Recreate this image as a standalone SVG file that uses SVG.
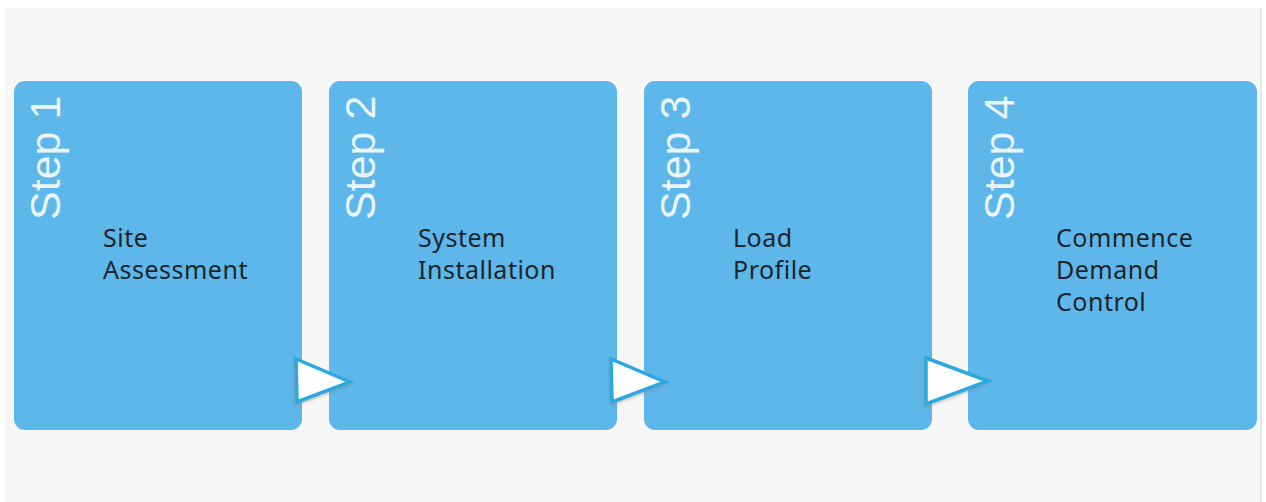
<svg xmlns="http://www.w3.org/2000/svg" width="1266" height="502" viewBox="0 0 1266 502">
  <defs>
    <style>
      .box { fill: #5db7ea; }
      .step { font-family: "Liberation Sans", Arial, sans-serif; font-size: 43px; fill: #eaf5fc; }
      .lbl { font-family: "Noto Sans", "Open Sans", sans-serif; font-size: 25px; fill: #1f2429; letter-spacing: 0.5px; }
      .tri { fill: #ffffff; stroke: #29a9e1; stroke-width: 3.5; stroke-linejoin: miter; }
    </style>
    <filter id="sh" x="-30%" y="-30%" width="160%" height="160%">
      <feGaussianBlur in="SourceAlpha" stdDeviation="1.5"/>
      <feOffset dx="-1" dy="2" result="b"/>
      <feFlood flood-color="#888888" flood-opacity="0.5"/>
      <feComposite in2="b" operator="in"/>
      <feMerge><feMergeNode/><feMergeNode in="SourceGraphic"/></feMerge>
    </filter>
  </defs>
  <rect x="0" y="0" width="1266" height="502" fill="#ffffff"/>
  <rect x="5" y="8" width="1256" height="494" fill="#f7f7f7"/>
  <line x1="1261" y1="8" x2="1261" y2="502" stroke="#e6e6e6" stroke-width="2"/>

  <g id="step1">
    <rect class="box" x="14" y="81" width="288" height="349" rx="11"/>
    <text class="step" transform="translate(60,220) rotate(-90)">Step 1</text>
    <text class="lbl" x="103" y="247">Site</text>
    <text class="lbl" x="103" y="279">Assessment</text>
  </g>
  <g id="step2">
    <rect class="box" x="329" y="81" width="288" height="349" rx="11"/>
    <text class="step" transform="translate(375,220) rotate(-90)">Step 2</text>
    <text class="lbl" x="418" y="247">System</text>
    <text class="lbl" x="418" y="279">Installation</text>
  </g>
  <g id="step3">
    <rect class="box" x="644" y="81" width="288" height="349" rx="11"/>
    <text class="step" transform="translate(690,220) rotate(-90)">Step 3</text>
    <text class="lbl" x="733" y="247">Load</text>
    <text class="lbl" x="733" y="279">Profile</text>
  </g>
  <g id="step4">
    <rect class="box" x="968" y="81" width="289" height="349" rx="11"/>
    <text class="step" transform="translate(1014,220) rotate(-90)">Step 4</text>
    <text class="lbl" x="1056" y="247">Commence</text>
    <text class="lbl" x="1056" y="279">Demand</text>
    <text class="lbl" x="1056" y="311">Control</text>
  </g>

  <g id="connectors" filter="url(#sh)">
    <polygon class="tri" points="296,359 350,382 297,402"/>
    <polygon class="tri" points="611,359 665,382 612,402"/>
    <polygon class="tri" points="926,358 988,381 926,404"/>
  </g>
</svg>
